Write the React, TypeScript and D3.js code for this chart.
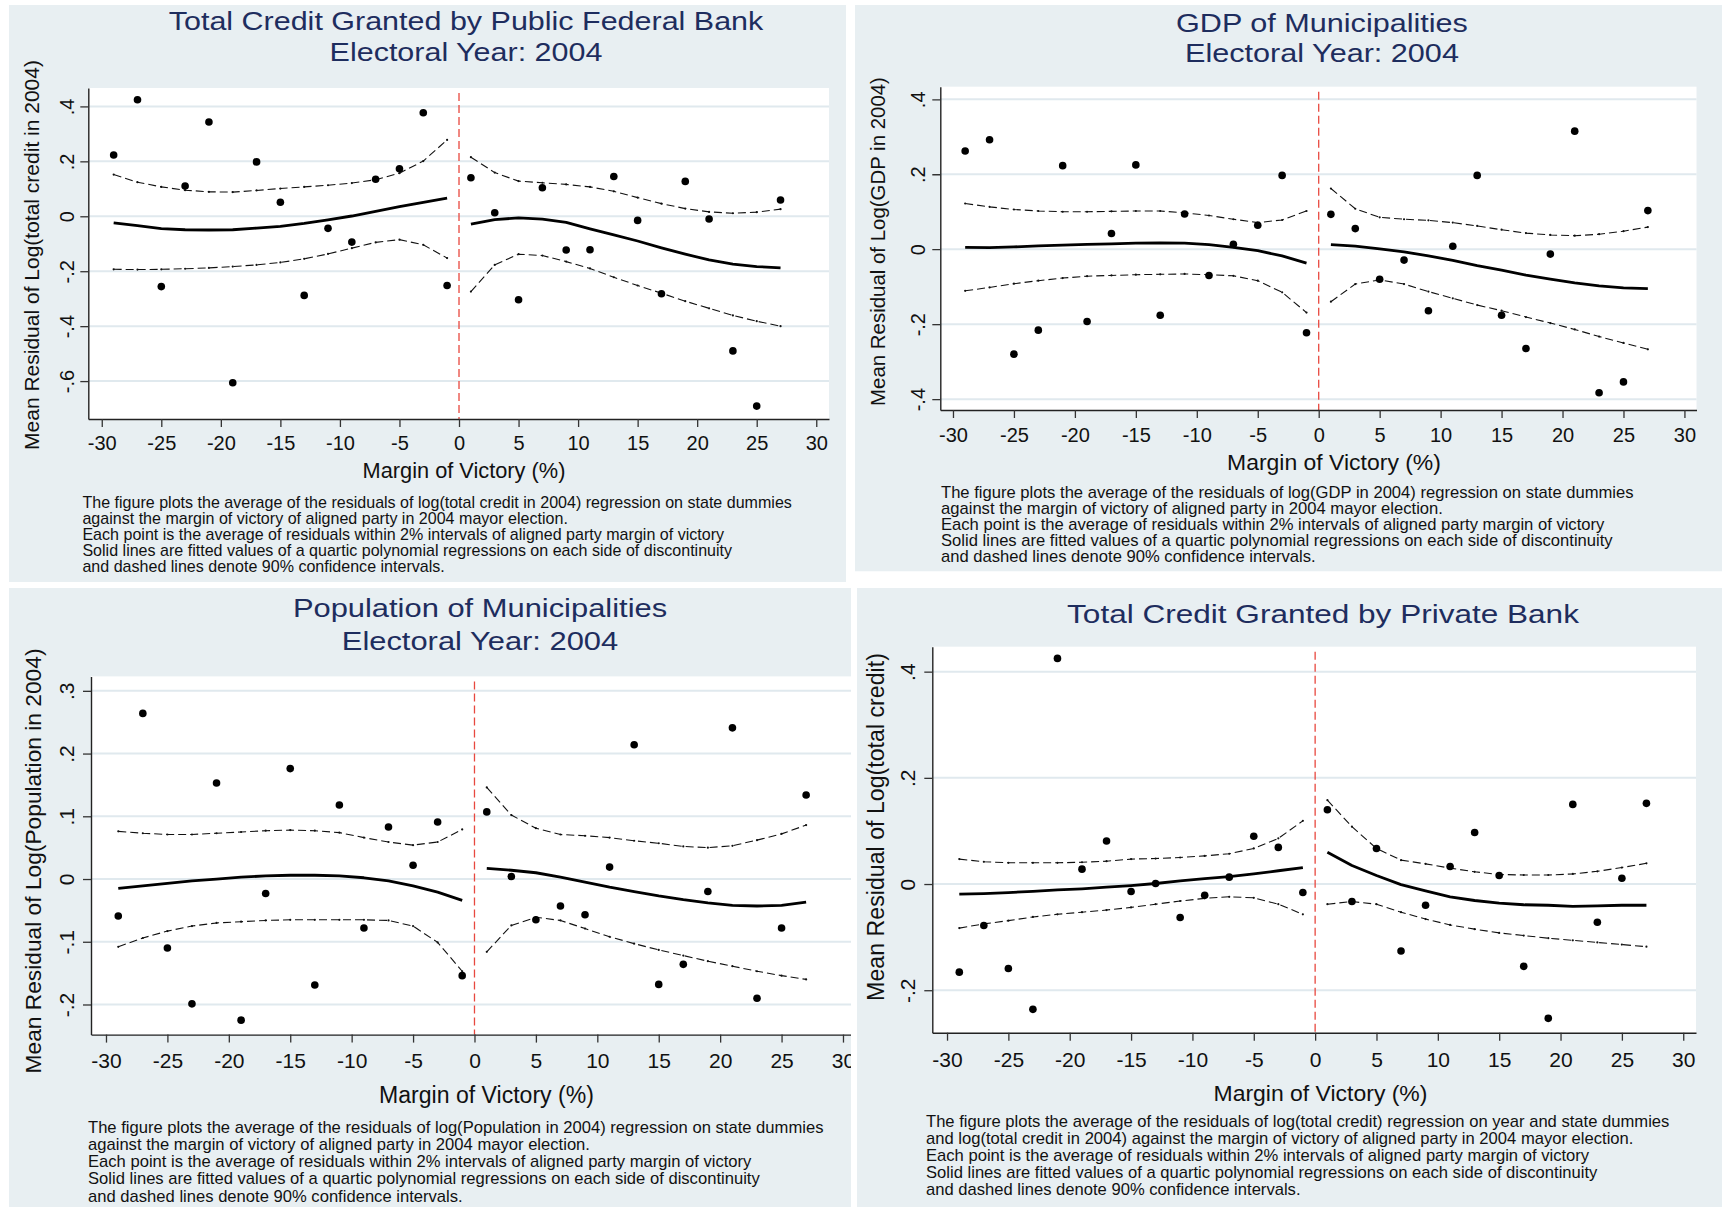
import React, { useEffect, useRef } from 'react';
import * as d3 from 'd3';

const W = 1722;
const H = 1207;
const FONT = "'Liberation Sans', Arial, Helvetica, sans-serif";

// bins (2% intervals of the margin of victory)
const binsLeft = [-29, -27, -25, -23, -21, -19, -17, -15, -13, -11, -9, -7, -5, -3, -1];
const binsRight = [1, 3, 5, 7, 9, 11, 13, 15, 17, 19, 21, 23, 25, 27];
const xTicks = [-30, -25, -20, -15, -10, -5, 0, 5, 10, 15, 20, 25, 30];

// Total credit, public federal bank
const pubPts = [0.223, 0.424, -0.256, 0.110, 0.343, -0.606, 0.198, 0.051, -0.288, -0.044, -0.094, 0.135, 0.173, 0.377, -0.252,
  0.140, 0.013, -0.304, 0.104, -0.123, -0.122, 0.145, -0.015, -0.282, 0.127, -0.010, -0.490, -0.691, 0.059];
const pubFitL = [-0.024, -0.034, -0.045, -0.049, -0.050, -0.049, -0.043, -0.037, -0.026, -0.013, 0.001, 0.018, 0.035, 0.051, 0.066];
const pubHiL = [0.152, 0.124, 0.107, 0.095, 0.089, 0.088, 0.094, 0.101, 0.107, 0.113, 0.121, 0.133, 0.157, 0.201, 0.278];
const pubLoL = [-0.193, -0.194, -0.193, -0.191, -0.188, -0.183, -0.177, -0.168, -0.155, -0.137, -0.116, -0.095, -0.085, -0.104, -0.152];
const pubFitR = [-0.029, -0.012, -0.006, -0.010, -0.022, -0.046, -0.068, -0.090, -0.115, -0.138, -0.159, -0.174, -0.183, -0.188];
const pubHiR = [0.215, 0.159, 0.128, 0.122, 0.116, 0.107, 0.091, 0.068, 0.046, 0.028, 0.016, 0.011, 0.015, 0.026];
const pubLoR = [-0.274, -0.177, -0.138, -0.143, -0.165, -0.190, -0.222, -0.252, -0.280, -0.309, -0.335, -0.361, -0.382, -0.400];
const pubTicks = [-0.6, -0.4, -0.2, 0, 0.2, 0.4];

// GDP of municipalities
const gdpPts = [0.262, 0.292, -0.280, -0.216, 0.223, -0.193, 0.042, 0.225, -0.176, 0.094, -0.070, 0.013, 0.064, 0.197, -0.223,
  0.093, 0.055, -0.080, -0.029, -0.164, 0.008, 0.197, -0.176, -0.265, -0.013, 0.315, -0.383, -0.354, 0.103];
const gdpFitL = [0.005, 0.004, 0.006, 0.009, 0.011, 0.013, 0.014, 0.016, 0.017, 0.016, 0.012, 0.005, -0.004, -0.018, -0.037];
const gdpHiL = [0.122, 0.113, 0.106, 0.102, 0.100, 0.100, 0.101, 0.102, 0.102, 0.097, 0.090, 0.080, 0.071, 0.078, 0.102];
const gdpLoL = [-0.111, -0.102, -0.092, -0.084, -0.077, -0.072, -0.070, -0.068, -0.067, -0.066, -0.068, -0.071, -0.084, -0.115, -0.169];
const gdpFitR = [0.012, 0.008, 0.001, -0.007, -0.018, -0.030, -0.044, -0.056, -0.069, -0.080, -0.090, -0.098, -0.103, -0.105];
const gdpHiR = [0.162, 0.108, 0.085, 0.080, 0.077, 0.071, 0.062, 0.052, 0.043, 0.038, 0.036, 0.040, 0.048, 0.059];
const gdpLoR = [-0.140, -0.093, -0.082, -0.093, -0.113, -0.131, -0.149, -0.164, -0.181, -0.197, -0.214, -0.233, -0.250, -0.267];
const gdpTicks = [-0.4, -0.2, 0, 0.2, 0.4];

// Population of municipalities
const popPts = [-0.059, 0.264, -0.110, -0.199, 0.153, -0.225, -0.023, 0.176, -0.169, 0.118, -0.078, 0.083, 0.022, 0.091, -0.154,
  0.107, 0.004, -0.065, -0.043, -0.057, 0.019, 0.214, -0.168, -0.136, -0.020, 0.241, -0.190, -0.078, 0.134];
const popFitL = [-0.015, -0.011, -0.007, -0.003, 0.000, 0.003, 0.005, 0.006, 0.006, 0.005, 0.002, -0.003, -0.011, -0.021, -0.034];
const popHiL = [0.076, 0.073, 0.071, 0.071, 0.073, 0.075, 0.077, 0.078, 0.077, 0.074, 0.066, 0.059, 0.054, 0.059, 0.079];
const popLoL = [-0.108, -0.094, -0.083, -0.075, -0.070, -0.068, -0.066, -0.065, -0.065, -0.065, -0.065, -0.066, -0.075, -0.101, -0.147];
const popFitR = [0.017, 0.014, 0.010, 0.003, -0.005, -0.013, -0.020, -0.027, -0.033, -0.038, -0.042, -0.043, -0.042, -0.037];
const popHiR = [0.146, 0.102, 0.081, 0.071, 0.069, 0.066, 0.061, 0.057, 0.052, 0.050, 0.053, 0.062, 0.072, 0.086];
const popLoR = [-0.116, -0.074, -0.061, -0.066, -0.079, -0.092, -0.103, -0.113, -0.122, -0.131, -0.139, -0.147, -0.154, -0.160];
const popTicks = [-0.2, -0.1, 0, 0.1, 0.2, 0.3];

// Total credit, private bank
const prvPts = [-0.166, -0.078, -0.159, -0.236, 0.425, 0.028, 0.081, -0.014, 0.001, -0.063, -0.021, 0.013, 0.090, 0.069, -0.016,
  0.140, -0.033, 0.067, -0.126, -0.040, 0.033, 0.097, 0.016, -0.155, -0.253, 0.150, -0.072, 0.011, 0.152];
const prvFitL = [-0.019, -0.018, -0.016, -0.014, -0.011, -0.009, -0.006, -0.003, 0.001, 0.006, 0.010, 0.014, 0.019, 0.025, 0.031];
const prvHiL = [0.047, 0.042, 0.040, 0.040, 0.040, 0.041, 0.043, 0.047, 0.048, 0.050, 0.053, 0.057, 0.067, 0.086, 0.119];
const prvLoL = [-0.083, -0.075, -0.069, -0.062, -0.057, -0.053, -0.049, -0.044, -0.038, -0.032, -0.027, -0.024, -0.026, -0.038, -0.057];
const prvFitR = [0.060, 0.035, 0.016, -0.001, -0.013, -0.024, -0.031, -0.036, -0.039, -0.040, -0.042, -0.041, -0.040, -0.040];
const prvHiR = [0.158, 0.108, 0.067, 0.045, 0.038, 0.030, 0.023, 0.018, 0.017, 0.017, 0.019, 0.024, 0.031, 0.039];
const prvLoR = [-0.038, -0.033, -0.038, -0.053, -0.066, -0.077, -0.085, -0.092, -0.097, -0.102, -0.106, -0.110, -0.114, -0.118];
const prvTicks = [-0.2, 0, 0.2, 0.4];

const capEnd = [
  'Each point is the average of residuals within 2% intervals of aligned party margin of victory',
  'Solid lines are fitted values of a quartic polynomial regressions on each side of discontinuity',
  'and dashed lines denote 90% confidence intervals.',
];

const panels = [
  {
    series: { pts: pubPts, fitL: pubFitL, hiL: pubHiL, loL: pubLoL, fitR: pubFitR, hiR: pubHiR, loR: pubLoR },
    yTicks: pubTicks,
    title: ['Total Credit Granted by Public Federal Bank', 'Electoral Year: 2004'],
    yTitle: 'Mean Residual of Log(total credit in 2004)',
    caption: [
      'The figure plots the average of the residuals of log(total credit in 2004) regression on state dummies',
      'against the margin of victory of aligned party in 2004 mayor election.',
      ...capEnd,
    ],
    bg: [9, 5, 846, 582], plot: [88.3, 88, 829, 419],
    xDom: [-31.13, 31.07], yDom: [-0.738, 0.467],
    titleX: 466, titleY: [20.5, 52], titleW: 595,
    yTitleX: 32, yTitleY: 255, yTitleW: 390,
    yLabX: 66.7, xLabY: 443, tickFs: 20,
    xTitleX: 464, xTitleY: 470, xTitleW: 203,
    capX: 82.4, capY: 502, capDy: 16.2, capW: 710.5,
  },
  {
    series: { pts: gdpPts, fitL: gdpFitL, hiL: gdpHiL, loL: gdpLoL, fitR: gdpFitR, hiR: gdpHiR, loR: gdpLoR },
    yTicks: gdpTicks,
    title: ['GDP of Municipalities', 'Electoral Year: 2004'],
    yTitle: 'Mean Residual of Log(GDP in 2004)',
    caption: [
      'The figure plots the average of the residuals of log(GDP in 2004) regression on state dummies',
      'against the margin of victory of aligned party in 2004 mayor election.',
      ...capEnd,
    ],
    bg: [855, 5, 1722, 571.5], plot: [940.3, 86.7, 1696.5, 410],
    xDom: [-31.04, 30.99], yDom: [-0.429, 0.4336],
    titleX: 1322, titleY: [22.5, 53], titleW: 292,
    yTitleX: 878, yTitleY: 241.5, yTitleW: 329,
    yLabX: 918, xLabY: 435, tickFs: 20,
    xTitleX: 1334, xTitleY: 461.5, xTitleW: 214,
    capX: 941, capY: 492, capDy: 16, capW: 693,
  },
  {
    series: { pts: popPts, fitL: popFitL, hiL: popHiL, loL: popLoL, fitR: popFitR, hiR: popHiR, loR: popLoR },
    yTicks: popTicks,
    title: ['Population of Municipalities', 'Electoral Year: 2004'],
    yTitle: 'Mean Residual of Log(Population in 2004)',
    caption: [
      'The figure plots the average of the residuals of log(Population in 2004) regression on state dummies',
      'against the margin of victory of aligned party in 2004 mayor election.',
      ...capEnd,
    ],
    bg: [9, 588, 851, 1207], plot: [91, 676.4, 856, 1034.6],
    xDom: [-31.22, 31.06], yDom: [-0.248, 0.323],
    titleX: 480, titleY: [608, 641], titleW: 374.5,
    yTitleX: 33, yTitleY: 861, yTitleW: 425,
    yLabX: 67, xLabY: 1061, tickFs: 21,
    xTitleX: 486.5, xTitleY: 1095, xTitleW: 215,
    capX: 88, capY: 1127, capDy: 17.3, capW: 736,
  },
  {
    series: { pts: prvPts, fitL: prvFitL, hiL: prvHiL, loL: prvLoL, fitR: prvFitR, hiR: prvHiR, loR: prvLoR },
    yTicks: prvTicks,
    title: ['Total Credit Granted by Private Bank'],
    yTitle: 'Mean Residual of Log(total credit)',
    caption: [
      'The figure plots the average of the residuals of log(total credit) regression on year and state dummies',
      'and log(total credit in 2004) against the margin of victory of aligned party in 2004 mayor election.',
      ...capEnd,
    ],
    bg: [857, 588, 1722, 1207], plot: [932.3, 646.7, 1696, 1032.7],
    xDom: [-31.2, 31.04], yDom: [-0.28, 0.447],
    titleX: 1323, titleY: [614], titleW: 512,
    yTitleX: 876, yTitleY: 827, yTitleW: 348,
    yLabX: 907.7, xLabY: 1059.3, tickFs: 21,
    xTitleX: 1320.5, xTitleY: 1093, xTitleW: 214,
    capX: 926, capY: 1121, capDy: 17, capW: 743.5,
  },
];

const fmtY = (v: number) => (v === 0 ? '0' : v.toFixed(1).replace('0.', '.'));

// size a text so its rendered width matches the reference
const fitFont = (sel: any, target: number) => {
  const len = sel.node().getComputedTextLength();
  const fs = parseFloat(sel.attr('font-size'));
  const nfs = len > 0 ? (fs * target) / len : fs;
  sel.attr('font-size', nfs);
  return nfs;
};

const drawPanel = (svg: any, p: any, i: number) => {
  const [bx0, by0, bx1, by1] = p.bg;
  const [px0, py0, px1, py1] = p.plot;

  svg.append('clipPath').attr('id', 'clip' + i)
    .append('rect').attr('x', bx0).attr('y', by0).attr('width', bx1 - bx0).attr('height', by1 - by0);

  const g = svg.append('g').attr('clip-path', `url(#clip${i})`);

  g.append('rect')
    .attr('x', bx0).attr('y', by0).attr('width', bx1 - bx0).attr('height', by1 - by0)
    .attr('fill', '#e8eff2');

  const x = d3.scaleLinear().domain(p.xDom).range([px0, px1]);
  const y = d3.scaleLinear().domain(p.yDom).range([py1, py0]);

  g.append('rect')
    .attr('x', px0).attr('y', py0).attr('width', px1 - px0).attr('height', py1 - py0)
    .attr('fill', '#ffffff');

  // grid
  g.selectAll('.grid')
    .data(p.yTicks)
    .enter().append('line')
    .attr('x1', px0).attr('x2', px1)
    .attr('y1', (d: number) => y(d)).attr('y2', (d: number) => y(d))
    .attr('stroke', '#e0e9ee').attr('stroke-width', 2);

  // cutoff at zero
  g.append('line')
    .attr('x1', x(0)).attr('x2', x(0))
    .attr('y1', py0 + 5).attr('y2', py1)
    .attr('stroke', '#e8483f').attr('stroke-width', 1.3).attr('stroke-dasharray', '8,4');

  const line = d3.line<[number, number]>().x(d => x(d[0])).y(d => y(d[1]));
  const s = p.series;
  const ci = [
    d3.zip(binsLeft, s.hiL), d3.zip(binsLeft, s.loL),
    d3.zip(binsRight, s.hiR), d3.zip(binsRight, s.loR),
  ];
  const fits = [d3.zip(binsLeft, s.fitL), d3.zip(binsRight, s.fitR)];

  ci.forEach((c: any) => {
    g.append('path').attr('d', line(c))
      .attr('fill', 'none').attr('stroke', '#111').attr('stroke-width', 1.1)
      .attr('stroke-dasharray', '8,4');
    g.selectAll(null).data(c).enter().append('circle')
      .attr('cx', (d: any) => x(d[0])).attr('cy', (d: any) => y(d[1]))
      .attr('r', 1.1).attr('fill', '#111');
  });
  fits.forEach((c: any) => {
    g.append('path').attr('d', line(c))
      .attr('fill', 'none').attr('stroke', '#000').attr('stroke-width', 2.8)
      .attr('stroke-linejoin', 'round');
  });

  const pts = d3.zip([...binsLeft, ...binsRight], s.pts);
  g.selectAll('.pt')
    .data(pts)
    .enter().append('circle')
    .attr('cx', (d: any) => x(d[0])).attr('cy', (d: any) => y(d[1]))
    .attr('r', 3.8).attr('fill', '#000');

  // axes
  const xAxis = g.append('g')
    .attr('transform', `translate(0,${py1})`)
    .call(d3.axisBottom(x).tickValues(xTicks).tickSize(8).tickSizeOuter(0).tickFormat((d: any) => String(d)));
  const yAxis = g.append('g')
    .attr('transform', `translate(${px0},0)`)
    .call(d3.axisLeft(y).tickValues(p.yTicks).tickSize(8).tickSizeOuter(0).tickFormat((d: any) => fmtY(d)));

  [xAxis, yAxis].forEach(a => {
    a.attr('font-family', FONT).attr('font-size', p.tickFs);
    a.select('.domain').attr('stroke', '#222').attr('stroke-width', 1.4);
    a.selectAll('.tick line').attr('stroke', '#333').attr('stroke-width', 1.3);
    a.selectAll('.tick text').attr('fill', '#111');
  });
  xAxis.selectAll('.tick text').attr('y', p.xLabY - py1).attr('dy', '0.35em');
  yAxis.selectAll('.tick text')
    .attr('x', null)
    .attr('dy', '0.35em')
    .attr('text-anchor', 'middle')
    .attr('transform', `translate(${p.yLabX - px0},0) rotate(-90)`);

  // titles, stretched to the reference width
  const tg = g.append('g');
  const tl = tg.selectAll('text')
    .data(p.title)
    .enter().append('text')
    .attr('x', 0).attr('y', (d: string, k: number) => p.titleY[k]).attr('dy', '0.35em')
    .attr('text-anchor', 'middle').attr('font-family', FONT).attr('font-size', 26.5)
    .attr('fill', '#1e2d5e').text((d: string) => d);
  const tlen = (tl.nodes()[0] as SVGTextElement).getComputedTextLength();
  tg.attr('transform', `translate(${p.titleX},0) scale(${p.titleW / tlen},1)`);

  const yt = g.append('text')
    .attr('transform', `translate(${p.yTitleX},${p.yTitleY}) rotate(-90)`)
    .attr('dy', '0.35em').attr('text-anchor', 'middle')
    .attr('font-family', FONT).attr('font-size', 21).attr('fill', '#111')
    .text(p.yTitle);
  fitFont(yt, p.yTitleW);

  const xt = g.append('text')
    .attr('x', p.xTitleX).attr('y', p.xTitleY).attr('dy', '0.35em').attr('text-anchor', 'middle')
    .attr('font-family', FONT).attr('font-size', 22).attr('fill', '#111')
    .text('Margin of Victory (%)');
  fitFont(xt, p.xTitleW);

  // note under the graph, condensed to the reference width
  const cap = g.append('g');
  const lines = cap.selectAll('text')
    .data(p.caption)
    .enter().append('text')
    .attr('x', 0)
    .attr('y', (d: string, k: number) => p.capY + k * p.capDy)
    .attr('dy', '0.35em')
    .attr('font-family', FONT).attr('font-size', 16).attr('fill', '#111')
    .text((d: string) => d);
  const clen = (lines.nodes()[0] as SVGTextElement).getComputedTextLength();
  cap.attr('transform', `translate(${p.capX},0) scale(${p.capW / clen},1)`);
};

const App = () => {
  const svgRef = useRef<SVGSVGElement>(null);

  useEffect(() => {
    const svg = d3.select(svgRef.current);
    svg.selectAll('*').remove();
    panels.forEach((p, i) => drawPanel(svg, p, i));
  }, []);

  return (
    <svg
      ref={svgRef}
      width={W}
      height={H}
      style={{ position: 'absolute', left: 0, top: 0, background: '#ffffff', display: 'block' }}
    />
  );
};

export default App;
